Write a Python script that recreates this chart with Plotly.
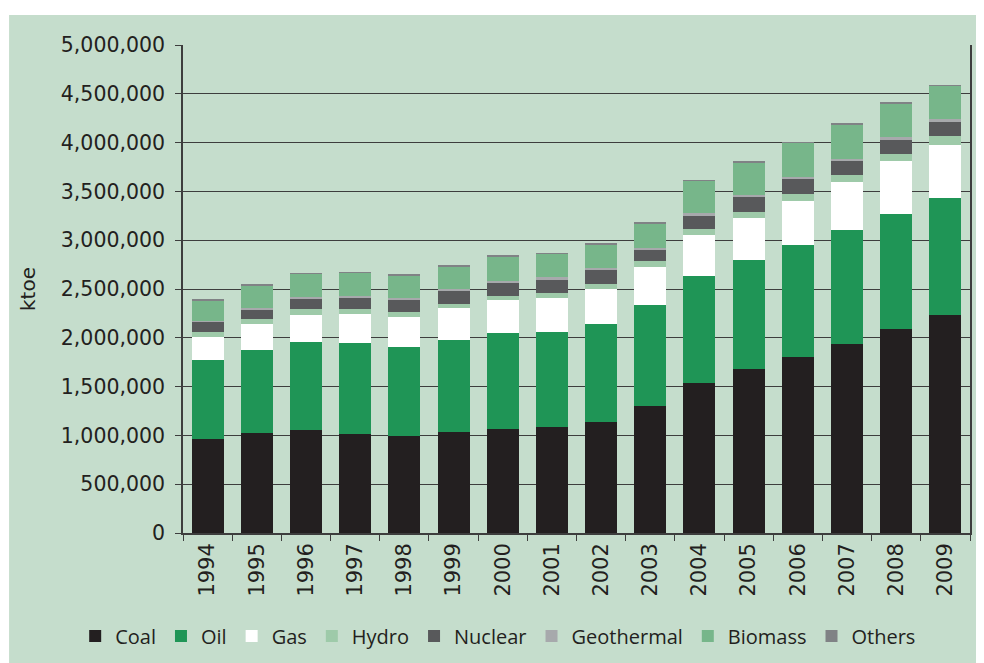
import plotly.graph_objects as go

YEARS = [str(y) for y in range(1994, 2010)]

# ktoe
COAL = [963000, 1025000, 1059000, 1014000, 997000, 1040000, 1066000, 1090000,
        1141000, 1298000, 1534000, 1684000, 1807000, 1940000, 2093000, 2234000]
OIL = [807000, 847000, 901000, 933000, 912000, 941000, 983000, 973000,
       997000, 1038000, 1103000, 1110000, 1141000, 1161000, 1179000, 1202000]
GAS = [241000, 266000, 277000, 300000, 307000, 326000, 342000, 348000,
       362000, 389000, 413000, 437000, 457000, 495000, 536000, 543000]
HYDRO = [52000, 51000, 55000, 45000, 48000, 43000, 41000, 48000,
         55000, 62000, 65000, 61000, 72000, 72000, 78000, 89000]
NUCLEAR = [99000, 106000, 109000, 119000, 127000, 133000, 133000, 137000,
           136000, 116000, 136000, 154000, 150000, 144000, 144000, 146000]
GEOTHERMAL = [13000, 13000, 14000, 14000, 14000, 14000, 20000, 22000,
              21000, 20000, 24000, 17000, 21000, 20000, 24000, 25000]
BIOMASS = [209000, 230000, 239000, 239000, 238000, 236000, 250000, 241000,
           249000, 250000, 332000, 335000, 351000, 356000, 349000, 344000]
OTHERS = [5000] * 16

SERIES = [
    ("Coal", COAL, "#231f20"),
    ("Oil", OIL, "#1f9556"),
    ("Gas", GAS, "#ffffff"),
    ("Hydro", HYDRO, "#9ecaa9"),
    ("Nuclear", NUCLEAR, "#58595b"),
    ("Geothermal", GEOTHERMAL, "#a7a9ac"),
    ("Biomass", BIOMASS, "#77b68a"),
    ("Others", OTHERS, "#808285"),
]

PANEL = "#c5ddcc"
INK = "#231f20"

fig = go.Figure()
for name, values, color in SERIES:
    fig.add_trace(
        go.Bar(
            x=YEARS,
            y=values,
            name=name,
            marker={"color": color, "line": {"width": 0}},
        )
    )

# the page body adds an 8px margin, so the plot box is shifted up/left by 8
fig.update_layout(
    barmode="stack",
    bargap=0.35,
    width=984,
    height=663,
    margin={"l": 175, "r": 22, "t": 37, "b": 138, "autoexpand": False},
    paper_bgcolor="#ffffff",
    plot_bgcolor="rgba(0,0,0,0)",
    font={"family": "DejaVu Sans", "size": 20.5, "color": INK},
    showlegend=True,
    legend={
        "orientation": "h",
        "x": -0.137,
        "xanchor": "left",
        "y": -0.211,
        "yanchor": "middle",
        "font": {"family": "Open Sans", "size": 20, "color": INK},
        "bgcolor": "rgba(0,0,0,0)",
        "traceorder": "normal",
        "itemwidth": 30,
    },
    shapes=[
        {
            "type": "rect",
            "xref": "paper",
            "yref": "paper",
            "x0": -0.221,
            "x1": 1.05,
            "y0": -0.3,
            "y1": 1.0615,
            "fillcolor": PANEL,
            "line": {"width": 0},
            "layer": "below",
        }
    ],
)

fig.update_yaxes(
    range=[0, 5000000],
    dtick=500000,
    tickformat=",",
    showgrid=True,
    gridcolor="#3d3d3d",
    gridwidth=1.2,
    zeroline=False,
    showline=True,
    linecolor="#3d3d3d",
    linewidth=1.5,
    mirror=True,
    ticks="outside",
    ticklen=6,
    tickcolor="#3d3d3d",
    ticklabelstandoff=6,
    title={"text": "ktoe", "standoff": 20, "font": {"size": 20}},
)
fig.update_xaxes(
    tickangle=-90,
    showline=True,
    linecolor="#3d3d3d",
    linewidth=1.5,
    ticks="outside",
    tickson="boundaries",
    ticklen=6,
    tickcolor="#3d3d3d",
    showgrid=False,
    tickfont={"size": 21},
)

fig.write_html("out.html")
